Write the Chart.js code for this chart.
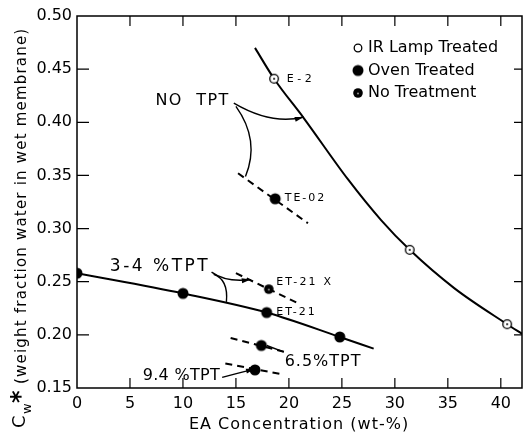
<!DOCTYPE html>
<html>
<head>
<meta charset="utf-8">
<script src="https://cdn.jsdelivr.net/npm/chart.js"></script>
<style>
  html, body { margin: 0; padding: 0; background: #fff; }
  #wrap { width: 527px; height: 433px; }
</style>
</head>
<body>
<div id="wrap"><canvas id="myChart" width="527" height="433"></canvas></div>
<script>
// ---- data ----
const xTicks = [0, 5, 10, 15, 20, 25, 30, 35, 40];
const yTicks = [0.15, 0.20, 0.25, 0.30, 0.35, 0.40, 0.45, 0.50];

// IR lamp treated points and the fitted curve through them
const irX = [18.6, 31.4, 40.6];
const irY = [0.441, 0.280, 0.210];
const irCurveX = [16.8, 18.6, 21.4, 25.6, 28.7, 31.4, 35.6, 40.6, 42.0];
const irCurveY = [0.470, 0.441, 0.404, 0.346, 0.308, 0.280, 0.244, 0.210, 0.201];

// oven treated points
const ovenX = [0, 10, 17.9, 24.8, 18.7, 17.4, 16.8];
const ovenY = [0.258, 0.239, 0.221, 0.198, 0.328, 0.190, 0.167];
const ovenLineX = [0, 10, 17.9, 24.8, 28.0];
const ovenLineY = [0.258, 0.239, 0.221, 0.198, 0.187];

// no treatment
const noTrX = [18.1];
const noTrY = [0.243];

// dashed guide lines (start, end)
const dashTE02 = [[15.2, 0.352], [21.8, 0.305]];
const dashET21X = [[15.0, 0.258], [21.0, 0.229]];
const dash65 = [[14.5, 0.197], [19.6, 0.184]];
const dash94 = [[14.0, 0.173], [19.3, 0.163]];

const FONT = '"DejaVu Sans", sans-serif';

function toPts(xs, ys) { return xs.map((x, i) => ({ x: x, y: ys[i] })); }
function seg(p) { return p.map(d => ({ x: d[0], y: d[1] })); }

function marker(kind) {
  const c = document.createElement('canvas');
  c.width = 14; c.height = 14;
  const g = c.getContext('2d');
  g.beginPath();
  if (kind === 'ir') {
    g.arc(7, 7, 4.3, 0, Math.PI * 2);
    g.fillStyle = '#fff'; g.fill();
    g.lineWidth = 1.3; g.strokeStyle = '#000'; g.stroke();
    g.beginPath(); g.arc(7, 7, 1, 0, Math.PI * 2); g.fillStyle = '#000'; g.fill();
  } else if (kind === 'oven') {
    g.arc(7, 7, 5.5, 0, Math.PI * 2);
    g.fillStyle = '#000'; g.fill();
  } else {
    g.arc(7, 7, 4.8, 0, Math.PI * 2);
    g.fillStyle = '#000'; g.fill();
    g.beginPath(); g.arc(7, 7.5, 1.1, 0, Math.PI * 2); g.fillStyle = '#888'; g.fill();
  }
  return c;
}
const mIR = marker('ir'), mOven = marker('oven'), mNo = marker('no');

const lineStyle = { showLine: true, pointRadius: 0, borderColor: '#000', borderWidth: 2, order: 1 };
const dashStyle = Object.assign({}, lineStyle, { borderDash: [7, 5], borderWidth: 2 });

// annotations in data units
const labels = [
  { t: 'E-2', x: 19.8, y: 0.441, size: 11, sp: 3.5 },
  { t: 'TE-02', x: 19.6, y: 0.329, size: 11, sp: 2 },
  { t: 'ET-21 X', x: 18.8, y: 0.250, size: 11, sp: 2.2 },
  { t: 'ET-21', x: 18.8, y: 0.2215, size: 11, sp: 2 },
  { t: 'NO  TPT', x: 7.4, y: 0.420, size: 16, sp: 1.5 },
  { t: '3-4 %TPT', x: 3.1, y: 0.264, size: 17, sp: 2.5 },
  { t: '9.4 %TPT', x: 6.2, y: 0.161, size: 16, sp: 0.3 },
  { t: '6.5%TPT', x: 19.6, y: 0.175, size: 16, sp: 1 }
];
// curved pointers: start, control, end, arrowhead?
const pointers = [
  { p: [[14.8, 0.418], [18.4, 0.397], [21.4, 0.405]], head: true },
  { p: [[15.0, 0.415], [17.3, 0.383], [15.9, 0.349]], head: false },
  { p: [[12.7, 0.259], [14.1, 0.249], [16.4, 0.252]], head: true },
  { p: [[12.9, 0.257], [14.3, 0.252], [14.1, 0.231]], head: false },
  { p: [[13.7, 0.160], [15.2, 0.164], [16.8, 0.168]], head: true },
  { p: [[19.5, 0.184], [18.7, 0.187], [17.9, 0.190]], head: false }
];
const legendItems = [
  { t: 'IR Lamp Treated', kind: 'ir' },
  { t: 'Oven Treated', kind: 'oven' },
  { t: 'No Treatment', kind: 'no' }
];
const xTitle = 'EA Concentration (wt-%)';
const yTitle = '(weight fraction water in wet membrane)';

const decor = {
  id: 'decor',
  afterDatasetsDraw(chart) {
    const ctx = chart.ctx, xs = chart.scales.x, ys = chart.scales.y, a = chart.chartArea;
    const X = v => xs.getPixelForValue(v), Y = v => ys.getPixelForValue(v);
    ctx.save();
    // frame
    ctx.strokeStyle = '#000'; ctx.lineWidth = 1.5;
    ctx.strokeRect(a.left, a.top, a.right - a.left, a.bottom - a.top);
    // inward ticks on all sides
    ctx.lineWidth = 1.2;
    xTicks.slice(1).forEach(v => {
      ctx.beginPath();
      ctx.moveTo(X(v), a.bottom); ctx.lineTo(X(v), a.bottom - 10);
      ctx.moveTo(X(v), a.top); ctx.lineTo(X(v), a.top + 10);
      ctx.stroke();
    });
    yTicks.slice(1, -1).forEach(v => {
      ctx.beginPath();
      ctx.moveTo(a.left, Y(v)); ctx.lineTo(a.left + 12, Y(v));
      ctx.moveTo(a.right, Y(v)); ctx.lineTo(a.right - 8, Y(v));
      ctx.stroke();
    });
    // text labels
    ctx.fillStyle = '#000'; ctx.textBaseline = 'middle'; ctx.textAlign = 'left';
    labels.forEach(l => {
      ctx.font = l.size + 'px ' + FONT;
      ctx.letterSpacing = l.sp + 'px';
      ctx.fillText(l.t, X(l.x), Y(l.y));
    });
    ctx.letterSpacing = '0px';
    // pointers
    ctx.lineWidth = 1.4;
    pointers.forEach(pt => {
      const [s, c, e] = pt.p.map(q => [X(q[0]), Y(q[1])]);
      ctx.beginPath();
      ctx.moveTo(s[0], s[1]);
      ctx.quadraticCurveTo(c[0], c[1], e[0], e[1]);
      ctx.stroke();
      if (pt.head) {
        const ang = Math.atan2(e[1] - c[1], e[0] - c[0]);
        const L = 9, W = 2.5;
        ctx.beginPath();
        ctx.moveTo(e[0], e[1]);
        ctx.lineTo(e[0] - L * Math.cos(ang) + W * Math.sin(ang), e[1] - L * Math.sin(ang) - W * Math.cos(ang));
        ctx.lineTo(e[0] - L * Math.cos(ang) - W * Math.sin(ang), e[1] - L * Math.sin(ang) + W * Math.cos(ang));
        ctx.closePath(); ctx.fill();
      }
    });
    // legend
    ctx.font = '16px ' + FONT;
    legendItems.forEach((it, i) => {
      const ly = 48 + i * 22.5;
      if (it.kind === 'ir') {
        ctx.beginPath(); ctx.arc(358, ly, 3.8, 0, Math.PI * 2);
        ctx.lineWidth = 1.3; ctx.stroke();
      } else {
        ctx.drawImage(it.kind === 'oven' ? mOven : mNo, 351, ly - 7);
      }
      ctx.fillText(it.t, 368, ly);
    });
    // x axis title
    ctx.font = '16px ' + FONT;
    ctx.letterSpacing = '1px';
    ctx.textAlign = 'center';
    ctx.fillText(xTitle, 299, 425);
    ctx.textAlign = 'left';
    // y axis title with subscript and asterisk
    ctx.translate(22, 428);
    ctx.rotate(-Math.PI / 2);
    ctx.letterSpacing = '0px';
    ctx.textBaseline = 'alphabetic';
    ctx.font = '18px ' + FONT;
    ctx.fillText('C', 0, 3);
    ctx.font = '13px ' + FONT;
    ctx.fillText('w', 14, 9);
    ctx.font = 'bold 24px ' + FONT;
    ctx.fillText('*', 25, 6);
    ctx.textBaseline = 'middle';
    ctx.font = '15px ' + FONT;
    ctx.letterSpacing = '1.2px';
    ctx.fillText(yTitle, 44, 0);
    ctx.restore();
  }
};

new Chart(document.getElementById('myChart'), {
  type: 'scatter',
  data: {
    datasets: [
      Object.assign({ data: toPts(irCurveX, irCurveY), cubicInterpolationMode: 'monotone' }, lineStyle),
      Object.assign({ data: toPts(ovenLineX, ovenLineY), cubicInterpolationMode: 'monotone' }, lineStyle),
      Object.assign({ data: seg(dashTE02) }, dashStyle),
      Object.assign({ data: seg(dashET21X) }, dashStyle),
      Object.assign({ data: seg(dash65) }, dashStyle),
      Object.assign({ data: seg(dash94) }, dashStyle),
      { label: 'IR Lamp Treated', data: toPts(irX, irY), pointStyle: mIR, order: 0 },
      { label: 'Oven Treated', data: toPts(ovenX, ovenY), pointStyle: mOven, order: 0 },
      { label: 'No Treatment', data: toPts(noTrX, noTrY), pointStyle: mNo, order: 0 }
    ]
  },
  options: {
    responsive: false,
    animation: false,
    layout: { padding: { top: 16, right: 1, left: 0, bottom: 0 } },
    plugins: { legend: { display: false }, tooltip: { enabled: false } },
    scales: {
      x: {
        type: 'linear', min: 0, max: 42,
        grid: { display: false, drawTicks: false },
        border: { display: false },
        afterBuildTicks: s => { s.ticks = xTicks.map(v => ({ value: v })); },
        ticks: {
          padding: 6, color: '#000', maxRotation: 0, autoSkip: false,
          font: { size: 16, family: FONT },
          callback: v => String(v)
        },
        afterFit: s => { s.height = 45; }
      },
      y: {
        type: 'linear', min: 0.15, max: 0.50,
        grid: { display: false, drawTicks: false },
        border: { display: false },
        afterBuildTicks: s => { s.ticks = yTicks.map(v => ({ value: v })); },
        ticks: {
          padding: 5, color: '#000', autoSkip: false,
          font: { size: 16, family: FONT },
          callback: v => v.toFixed(2)
        },
        afterFit: s => { s.width = 77; }
      }
    }
  },
  plugins: [decor]
});
</script>
</body>
</html>
